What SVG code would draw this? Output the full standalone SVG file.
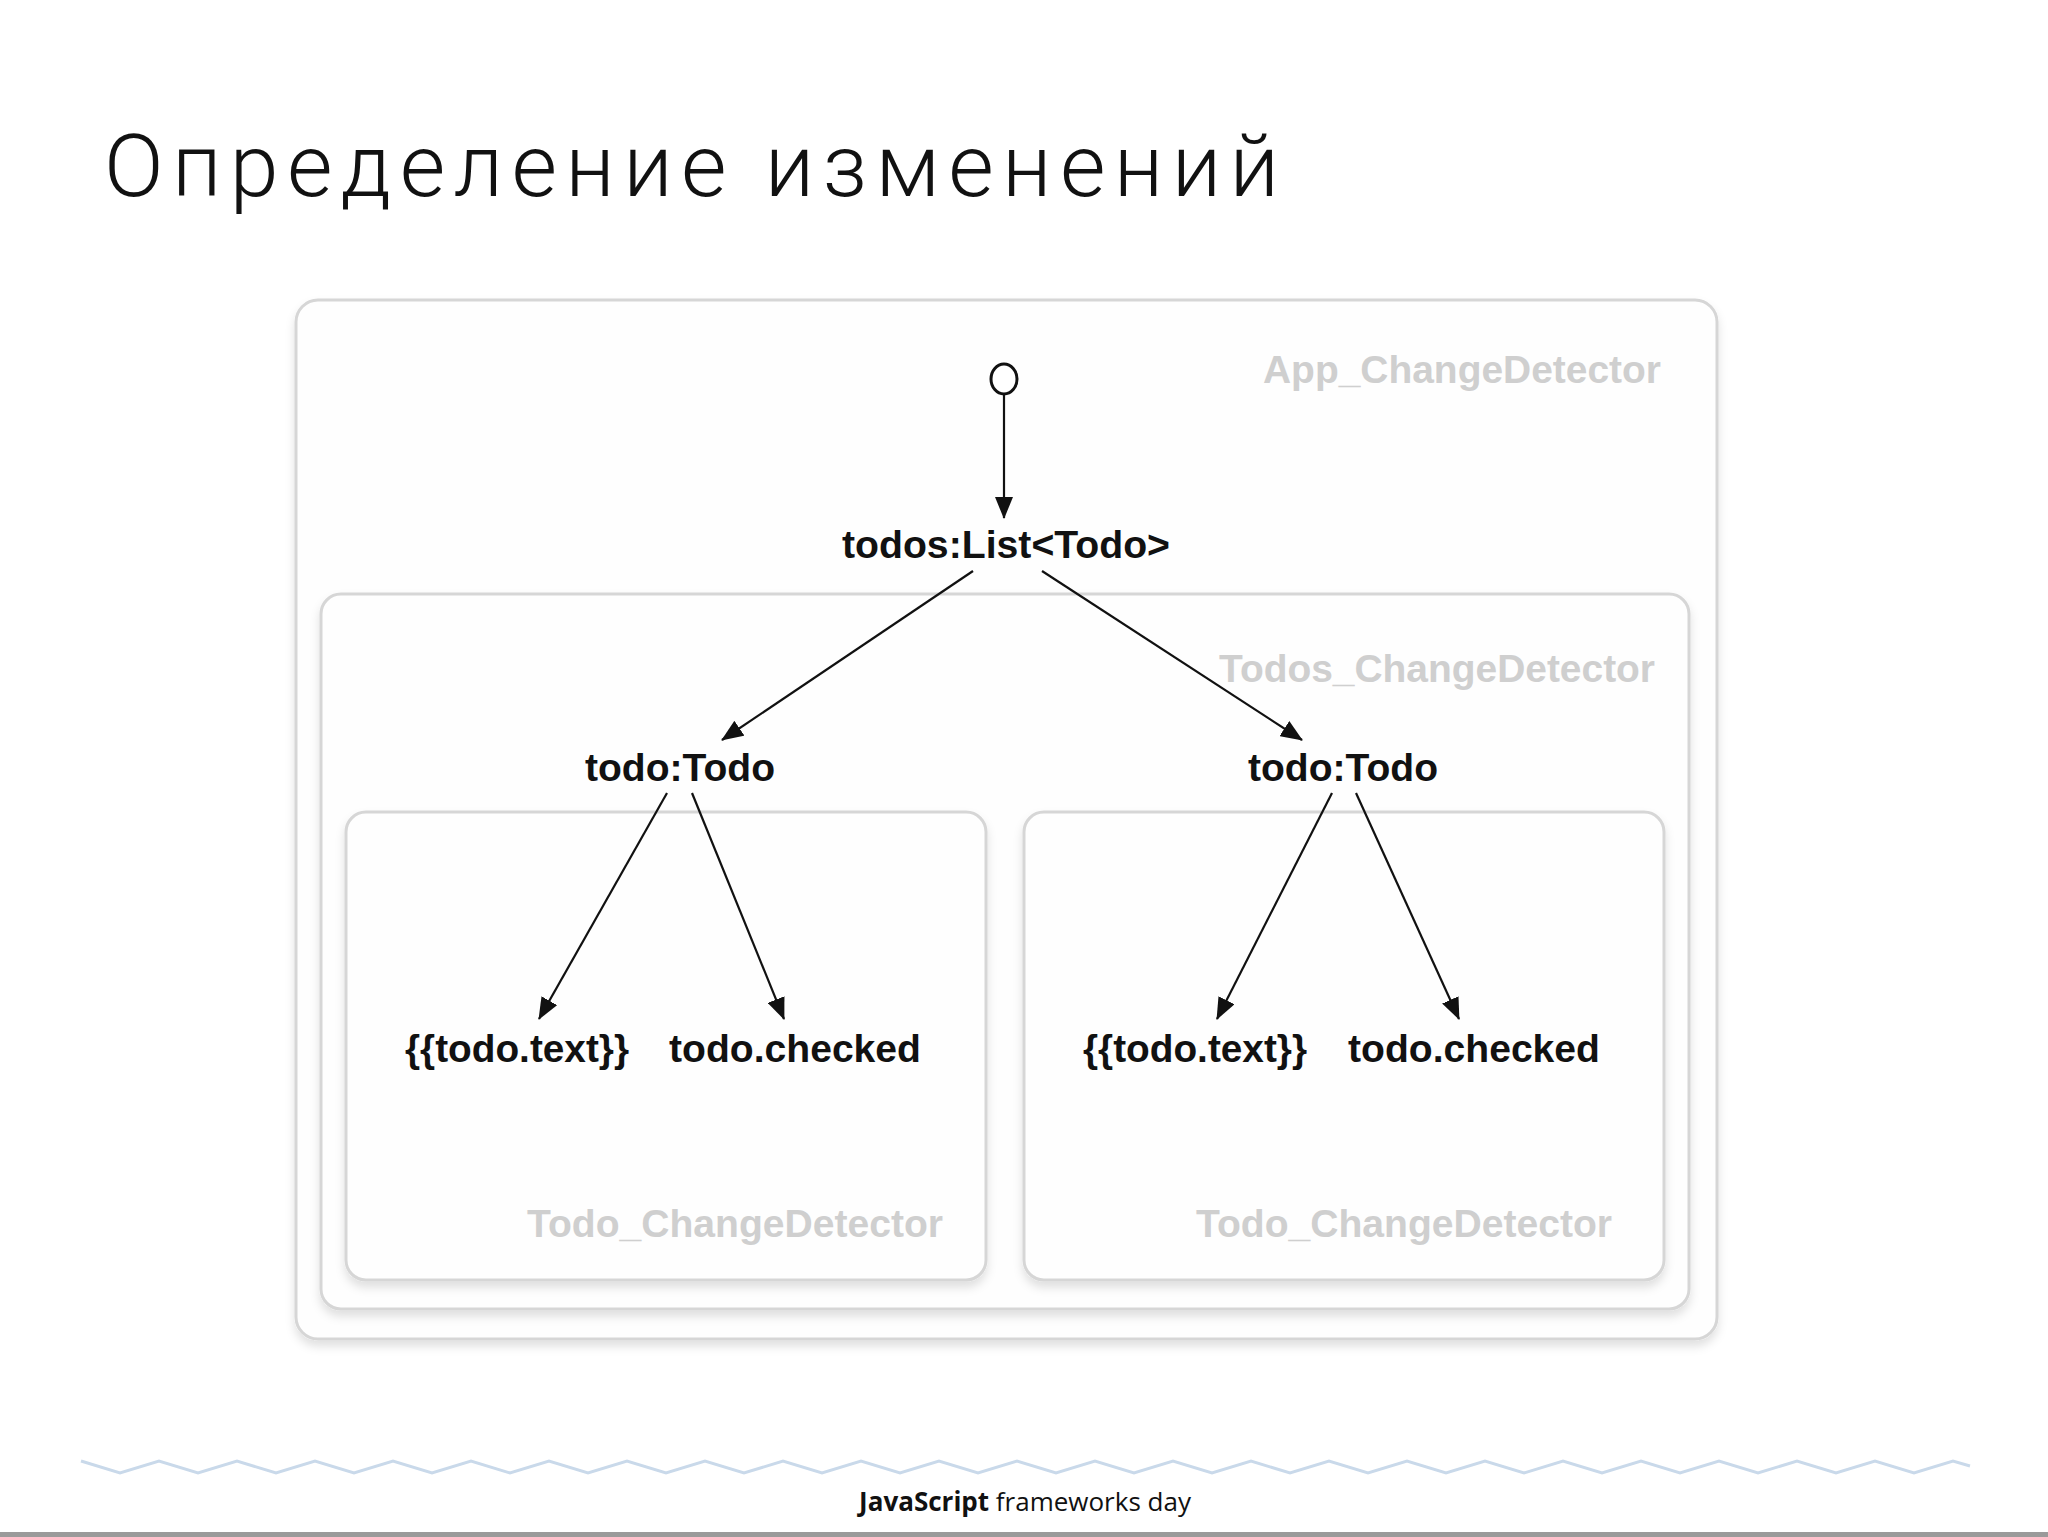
<svg xmlns="http://www.w3.org/2000/svg" width="2048" height="1537" viewBox="0 0 2048 1537">
<defs>
<style>
.box{fill:#fefefe;stroke:#d6d6d6;stroke-width:3}
.lbl{font-family:"Liberation Sans",Arial,sans-serif;font-weight:bold;font-size:38px;fill:#cfcfcf;text-anchor:end}
.node{font-family:"Liberation Sans",Arial,sans-serif;font-weight:bold;font-size:38px;fill:#111;text-anchor:middle}
.edge{stroke:#111;stroke-width:2.2;fill:none;marker-end:url(#ah)}
</style>
<marker id="ah" markerWidth="22" markerHeight="18" refX="21" refY="9" orient="auto" markerUnits="userSpaceOnUse" viewBox="0 0 22 18"><path d="M0,0 L22,9 L0,18 z" fill="#111"/></marker>
<filter id="sh" x="-5%" y="-5%" width="110%" height="115%"><feDropShadow dx="0" dy="6" stdDeviation="5" flood-color="#000" flood-opacity="0.12"/></filter>
</defs>
<rect width="2048" height="1537" fill="#ffffff"/>
<text x="104" y="196" font-family="Roboto,'Liberation Sans',sans-serif" font-weight="300" font-size="88" textLength="1175" lengthAdjust="spacing" fill="#111">Определение изменений</text>

<g id="app"><rect class="box" x="296" y="300" width="1421" height="1039" rx="22" filter="url(#sh)"/><text class="lbl" x="1661" y="383" textLength="398" lengthAdjust="spacingAndGlyphs">App_ChangeDetector</text></g>
<g id="todos"><rect class="box" x="321" y="594" width="1368" height="715" rx="20" filter="url(#sh)"/><text class="lbl" x="1655" y="682" textLength="436" lengthAdjust="spacingAndGlyphs">Todos_ChangeDetector</text></g>
<g id="todo1"><rect class="box" x="346" y="812" width="640" height="468" rx="20" filter="url(#sh)"/><text class="lbl" x="943" y="1237" textLength="416" lengthAdjust="spacingAndGlyphs">Todo_ChangeDetector</text></g>
<g id="todo2"><rect class="box" x="1024" y="812" width="640" height="468" rx="20" filter="url(#sh)"/><text class="lbl" x="1612" y="1237" textLength="416" lengthAdjust="spacingAndGlyphs">Todo_ChangeDetector</text></g>

<g id="start"><ellipse cx="1004" cy="379" rx="13" ry="15" fill="#fff" stroke="#111" stroke-width="3"/></g>
<g id="list"><text class="node" x="1006" y="558" textLength="328" lengthAdjust="spacingAndGlyphs">todos:List&lt;Todo&gt;</text></g>
<g id="todoL"><text class="node" x="680" y="781" textLength="190" lengthAdjust="spacingAndGlyphs">todo:Todo</text></g>
<g id="todoR"><text class="node" x="1343" y="781" textLength="190" lengthAdjust="spacingAndGlyphs">todo:Todo</text></g>
<g id="textL"><text class="node" x="517" y="1062" textLength="224" lengthAdjust="spacingAndGlyphs">{{todo.text}}</text></g>
<g id="checkedL"><text class="node" x="795" y="1062" textLength="252" lengthAdjust="spacingAndGlyphs">todo.checked</text></g>
<g id="textR"><text class="node" x="1195" y="1062" textLength="224" lengthAdjust="spacingAndGlyphs">{{todo.text}}</text></g>
<g id="checkedR"><text class="node" x="1474" y="1062" textLength="252" lengthAdjust="spacingAndGlyphs">todo.checked</text></g>

<g id="connectors">
<line class="edge" x1="1004" y1="394" x2="1004" y2="518"/>
<line class="edge" x1="973" y1="571" x2="722" y2="740"/>
<line class="edge" x1="1042" y1="571" x2="1302" y2="740"/>
<line class="edge" x1="667" y1="793" x2="539" y2="1019"/>
<line class="edge" x1="692" y1="793" x2="784" y2="1019"/>
<line class="edge" x1="1332" y1="793" x2="1217" y2="1019"/>
<line class="edge" x1="1356" y1="793" x2="1459" y2="1019"/>
</g>

<polyline fill="none" stroke="#c9d9ea" stroke-width="3" points="81,1461 120,1473 159,1461 198,1473 237,1461 276,1473 315,1461 354,1473 393,1461 432,1473 471,1461 510,1473 549,1461 588,1473 627,1461 666,1473 705,1461 744,1473 783,1461 822,1473 861,1461 900,1473 939,1461 978,1473 1017,1461 1056,1473 1095,1461 1134,1473 1173,1461 1212,1473 1251,1461 1290,1473 1329,1461 1368,1473 1407,1461 1446,1473 1485,1461 1524,1473 1563,1461 1602,1473 1641,1461 1680,1473 1719,1461 1758,1473 1797,1461 1836,1473 1875,1461 1914,1473 1953,1461 1970,1466"/>
<text x="1025" y="1511" text-anchor="middle" font-family="'Open Sans','Noto Sans',sans-serif" font-size="26" fill="#111"><tspan font-weight="bold">JavaScript</tspan> frameworks day</text>
<rect x="0" y="1532" width="2048" height="5" fill="#9a9a9a"/>
</svg>
